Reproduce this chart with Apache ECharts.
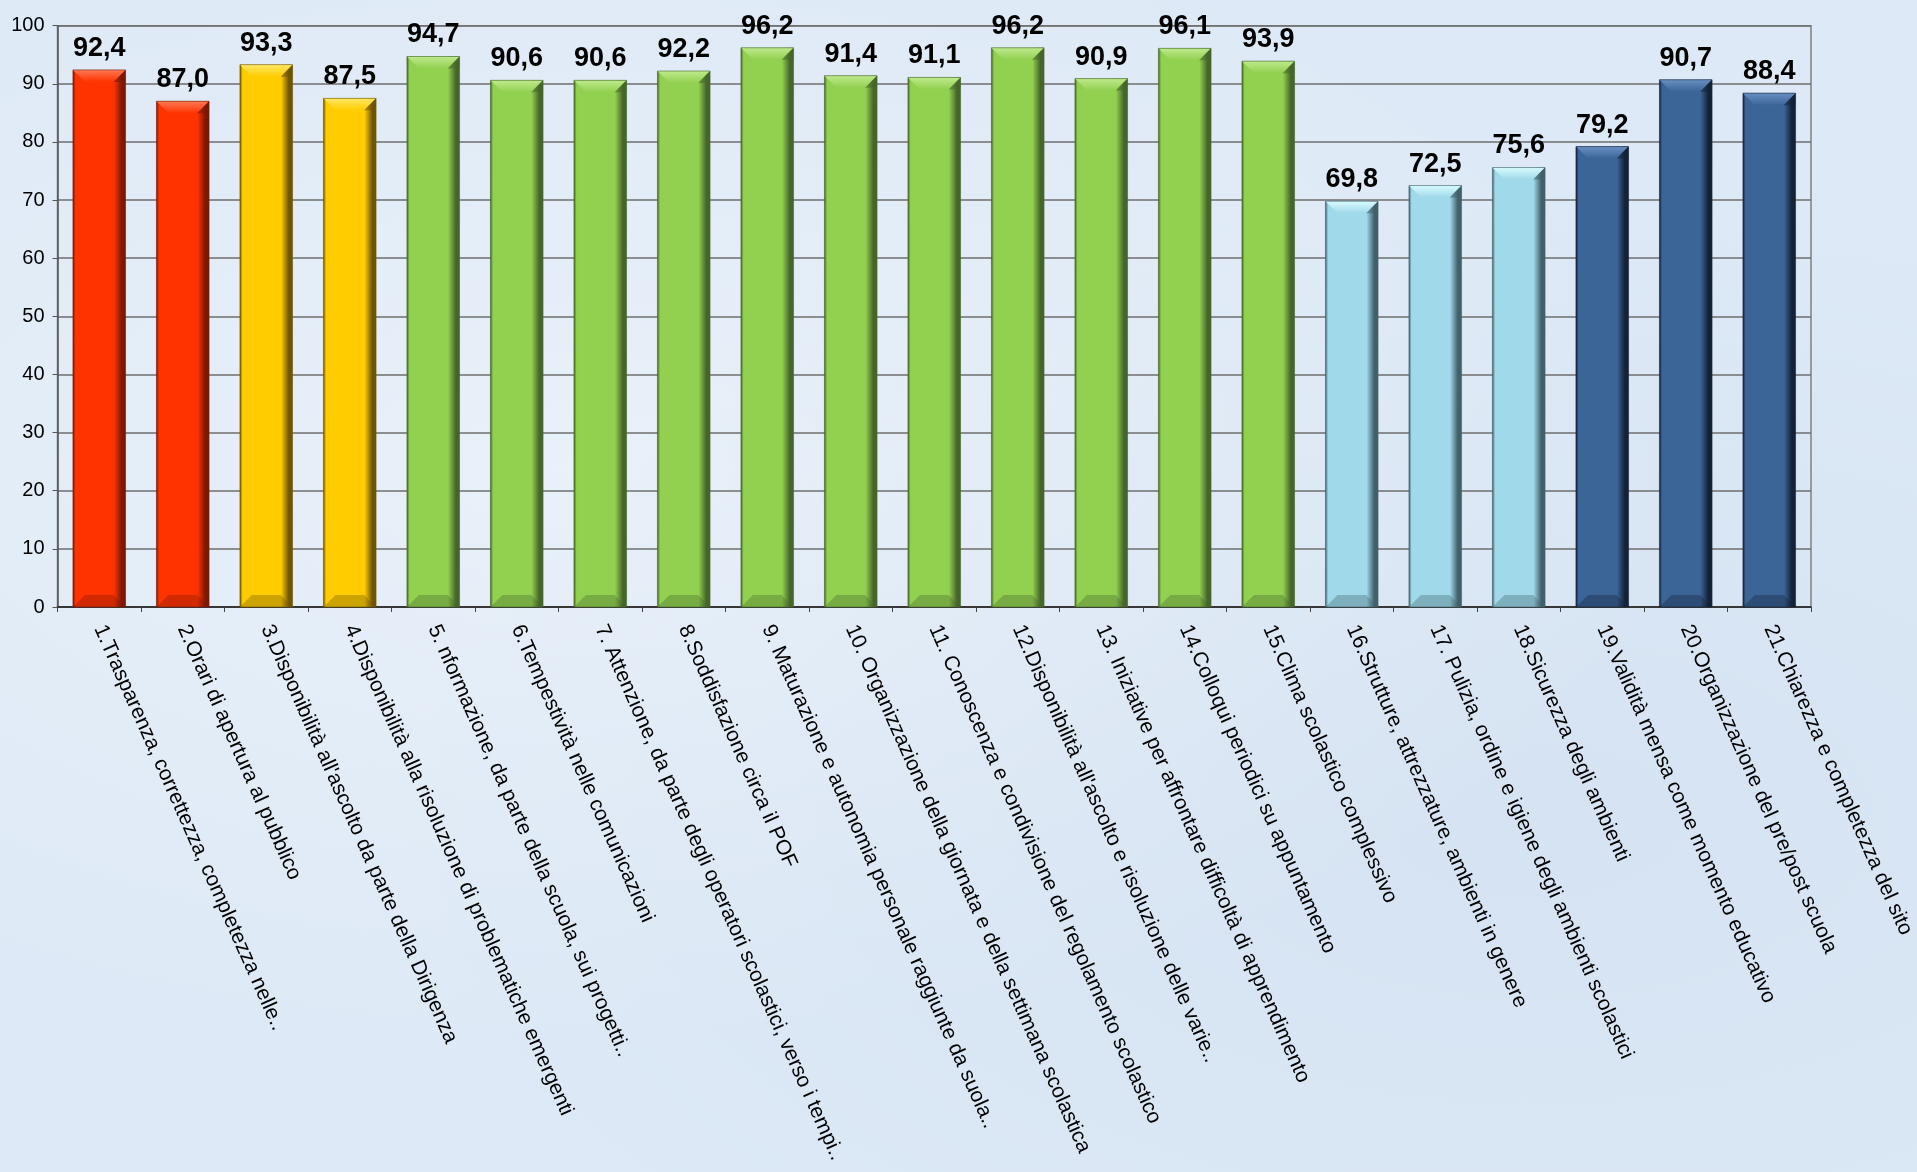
<!DOCTYPE html>
<html>
<head>
<meta charset="utf-8">
<script src="https://cdn.jsdelivr.net/npm/echarts@6/dist/echarts.min.js"></script>
<style>
html,body{margin:0;padding:0;width:1917px;height:1172px;overflow:hidden;
background:#dde9f6;
background-image:radial-gradient(ellipse at 30% 40%, rgba(255,255,255,0.35), rgba(255,255,255,0) 60%),
radial-gradient(ellipse at 80% 70%, rgba(200,215,235,0.35), rgba(255,255,255,0) 55%);}
#c{width:1917px;height:1172px;}
</style>
</head>
<body>
<div id="c"></div>
<script>
const categories = [
  "1.Trasparenza, correttezza, completezza nelle..",
  "2.Orari di apertura al pubblico",
  "3.Disponibilità all'ascolto da parte della Dirigenza",
  "4.Disponibilità alla risoluzione di problematiche emergenti",
  "5. nformazione, da parte della scuola, sui progetti..",
  "6.Tempestività nelle comunicazioni",
  "7. Attenzione, da parte degli operatori scolastici, verso i tempi..",
  "8.Soddisfazione circa il POF",
  "9. Maturazione e autonomia personale raggiunte da suola..",
  "10. Organizzazione della giornata e della settimana scolastica",
  "11. Conoscenza e condivisione del regolamento scolastico",
  "12.Disponibilità all'ascolto e risoluzione delle varie..",
  "13. Iniziative per affrontare difficoltà di apprendimento",
  "14.Colloqui periodici su appuntamento",
  "15.Clima scolastico complessivo",
  "16.Strutture, attrezzature, ambienti in genere",
  "17. Pulizia, ordine e igiene degli ambienti scolastici",
  "18.Sicurezza degli ambienti",
  "19.Validità mensa come momento educativo",
  "20.Organizzazione del pre/post scuola",
  "21.Chiarezza e completezza del sito"
];
const values = [92.4, 87.0, 93.3, 87.5, 94.7, 90.6, 90.6, 92.2, 96.2, 91.4, 91.1, 96.2, 90.9, 96.1, 93.9, 69.8, 72.5, 75.6, 79.2, 90.7, 88.4];
const groups = [0,0,1,1,2,2,2,2,2,2,2,2,2,2,2,3,3,3,4,4,4];
const yTicks = [0,10,20,30,40,50,60,70,80,90,100];

const palette = [
  {main:'#ff3300', light:'#ff7a55', dark:'#7a1800'},
  {main:'#ffcc00', light:'#ffe866', dark:'#6e5600'},
  {main:'#92d050', light:'#bfea8c', dark:'#45662a'},
  {main:'#a0d9ea', light:'#d8fbff', dark:'#40606a'},
  {main:'#3b6497', light:'#6a90c2', dark:'#142238'}
];
const FONT = 'Liberation Sans, Arial, sans-serif';
const BAR_RATIO = 0.63;

function grad(p){
  return new echarts.graphic.LinearGradient(0,0,1,0,[
    {offset:0, color:p.dark},
    {offset:0.05, color:p.main},
    {offset:0.78, color:p.main},
    {offset:0.93, color:p.dark},
    {offset:1, color:p.dark}
  ]);
}

const data = values.map((v,i)=>({
  value:v,
  itemStyle:{color:grad(palette[groups[i]])}
}));

function renderBevel(params, api){
  const i = api.value(0), v = api.value(1);
  const p = palette[groups[i]];
  const top = api.coord([i, v]);
  const bot = api.coord([i, 0]);
  const w = api.size([1,0])[0] * BAR_RATIO;
  const x0 = top[0] - w/2, x1 = top[0] + w/2;
  const yt = top[1], yb = bot[1];
  const b = 12;
  return {
    type:'group',
    children:[
      {type:'polygon', shape:{points:[[x0,yt],[x1,yt],[x1-b,yt+b],[x0+b,yt+b]]},
        style:{fill:new echarts.graphic.LinearGradient(0,0,0,1,[
          {offset:0,color:p.light},{offset:1,color:p.main}])}},
      {type:'polygon', shape:{points:[[x1,yt],[x1,yt+b],[x1-b,yt+b]]},
        style:{fill:p.dark, opacity:0.55}},
      {type:'polygon', shape:{points:[[x0,yb],[x0+b,yb-b],[x1-b,yb-b],[x1,yb]]},
        style:{fill:p.dark, opacity:0.35}},
      {type:'rect', shape:{x:x0, y:yt, width:w, height:yb-yt},
        style:{fill:'none', stroke:p.dark, lineWidth:1, opacity:0.6}}
    ]
  };
}

const chart = echarts.init(document.getElementById('c'), null, {renderer:'canvas'});
chart.setOption({
  animation:false,
  grid:{left:57.5, right:106, top:25.7, bottom:565, show:true, borderColor:'#808080', borderWidth:1.5,
    backgroundColor:'transparent', containLabel:false, outerBoundsMode:'none'},
  xAxis:{
    type:'category',
    data:categories,
    axisLine:{lineStyle:{color:'#222', width:1.5}},
    axisTick:{show:true, length:5, lineStyle:{color:'#444'}},
    axisLabel:{rotate:-66, interval:0, margin:19, color:'#000', fontFamily:FONT, fontSize:21}
  },
  yAxis:{
    type:'value', min:0, max:100, interval:10,
    axisLine:{show:true, lineStyle:{color:'#555', width:1.5}},
    axisTick:{show:true, length:5, lineStyle:{color:'#555'}},
    splitLine:{lineStyle:{color:'#6e6e6e', width:1.5}},
    axisLabel:{margin:13, color:'#000', fontFamily:FONT, fontSize:20,
      formatter:v=>yTicks.includes(v)?String(v):''}
  },
  series:[{
    type:'bar',
    data:data,
    barWidth:(BAR_RATIO*100)+'%',
    z:2,
    label:{show:true, position:'top', distance:8, color:'#000', fontWeight:'bold', fontSize:27,
      fontFamily:FONT,
      formatter:p=>p.value.toFixed(1).replace('.',',')}
  },{
    type:'custom',
    z:3,
    silent:true,
    renderItem:renderBevel,
    data:values.map((v,i)=>[i,v])
  }]
});
</script>
</body>
</html>
